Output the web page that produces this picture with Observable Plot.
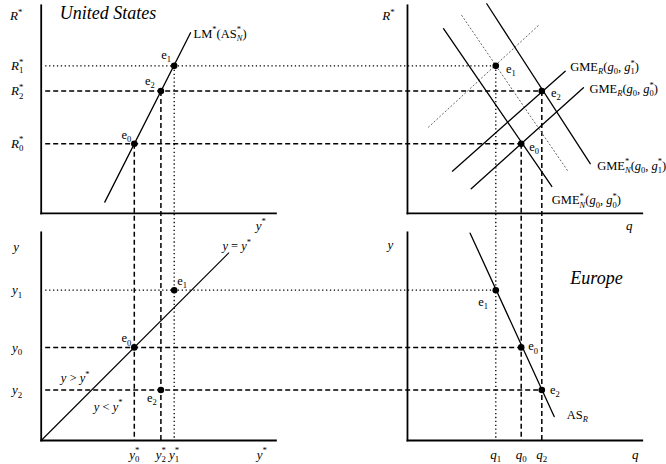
<!DOCTYPE html>
<html><head><meta charset="utf-8">
<script src="https://cdn.jsdelivr.net/npm/d3@7"></script>
<script src="https://cdn.jsdelivr.net/npm/@observablehq/plot@0.6"></script>
<style>
body{margin:0;background:#fff}
#chart{width:666px;height:464px}
</style></head><body><div id="chart"></div>
<script>
// ---------------- data (diagram units) ----------------
const eqNames = ["e<sub>0</sub>", "e<sub>1</sub>", "e<sub>2</sub>"];
const yStar = [7, 10, 9];            // y*0, y*1, y*2   (US output)
const rStar = [5.24, 11.1, 9.2];     // R*0, R*1, R*2   (interest rate)
const yEU   = [7, 11.3, 3.8];        // y0, y1, y2      (European output)
const qEU   = [8.55, 6.64, 10.1];    // q0, q1, q2      (real exchange rate)

const rTicks  = ["<i>R</i><sup>*</sup><sub>0</sub>", "<i>R</i><sup>*</sup><sub>1</sub>", "<i>R</i><sup>*</sup><sub>2</sub>"];
const ysTicks = ["<i>y</i><sup>*</sup><sub>0</sub>", "<i>y</i><sup>*</sup><sub>1</sub>", "<i>y</i><sup>*</sup><sub>2</sub>"];
const yTicks  = ["<i>y</i><sub>0</sub>", "<i>y</i><sub>1</sub>", "<i>y</i><sub>2</sub>"];
const qTicks  = ["<i>q</i><sub>0</sub>", "<i>q</i><sub>1</sub>", "<i>q</i><sub>2</sub>"];

// curves: endpoints
const lmYs = [4.78, 11.23],  lmR = [0.85, 13.59];                 // LM*(AS*N)
const gN0Q = [2.71, 10.85],  gN0R = [13.89, 2.03];               // GME*N(g0,g0*)
const gN1Q = [5.96, 13.74],  gN1R = [15.77, 3.74];               // GME*N(g0,g1*)
const gNdQ = [4.08, 12.11],  gNdR = [14.89, 3.11];               // dotted intermediate
const gR1Q = [3.38, 11.86],  gR1R = [3.18, 10.70];               // GME_R(g0,g1*)
const gR0Q = [4.79, 13.23],  gR0R = [1.86, 9.45];                // GME_R(g0,g0*)
const gRdQ = [1.58, 9.85],   gRdR = [6.49, 14.14];               // dotted intermediate
const asQ  = [4.71, 11.03],  asY  = [15.59, 1.80];               // AS_R
const diag = [0, 14.1];                                          // y = y*
const axisLenX = 17.65, axisLenY = 15.65;

// ---------------- composite layout ----------------
const QX = 27.54;   // horizontal offset of right-hand panels
const TY = 17.07;   // vertical offset of top panels
const U = 13.3;     // pixels per unit

const seg = (xs, ys, ox, oy) => xs.map((v, i) => ({x: ox + v, y: oy + ys[i]}));

const axes = [
  {x1: 0, y1: TY, x2: 0, y2: TY + axisLenY}, {x1: 0, y1: TY, x2: axisLenX, y2: TY},
  {x1: QX, y1: TY, x2: QX, y2: TY + axisLenY}, {x1: QX, y1: TY, x2: QX + axisLenX, y2: TY},
  {x1: 0, y1: 0, x2: 0, y2: axisLenY}, {x1: 0, y1: 0, x2: axisLenX, y2: 0},
  {x1: QX, y1: 0, x2: QX, y2: axisLenY}, {x1: QX, y1: 0, x2: QX + axisLenX, y2: 0}
];

const guides = [];
[0, 1, 2].forEach(i => {
  const kind = i === 1 ? "dot" : "dash";
  guides.push({kind, x1: 0.3, y1: TY + rStar[i], x2: QX + qEU[i], y2: TY + rStar[i]});
  guides.push({kind, x1: 0.3, y1: yEU[i], x2: QX + qEU[i], y2: yEU[i]});
  guides.push({kind, x1: yStar[i], y1: TY + rStar[i], x2: yStar[i], y2: 0});
  guides.push({kind, x1: QX + qEU[i], y1: TY + rStar[i], x2: QX + qEU[i], y2: 0});
});

const pts = [];
[0, 1, 2].forEach(i => {
  pts.push({x: yStar[i], y: TY + rStar[i]});
  pts.push({x: QX + qEU[i], y: TY + rStar[i]});
  pts.push({x: yStar[i], y: yEU[i]});
  pts.push({x: QX + qEU[i], y: yEU[i]});
});

// labels: anchored on data positions, offset in pixels
const L = [];
const lab = (x, y, t, dx, dy, anchor = "middle", fs = 12.5, italic = false) => L.push({x, y, t, dx, dy, anchor, fs, italic});

// top-left
lab(0, TY + axisLenY, "<i>R</i><sup>*</sup>", -25, 11, "middle", 13);
rTicks.forEach((t, i) => lab(0, TY + rStar[i], t, -24, 0, "middle", 13));
lab(0, TY + axisLenY, "United States", 18.6, 8, "start", 18, true);
lab(lmYs[1], TY + lmR[1], "LM<sup>*</sup>(AS<sup>*</sup><sub><i>N</i></sub>)", 3, 1, "start");
const tlOff = [[-8, -9], [-8, -11], [-11, -10]];
eqNames.forEach((t, i) => lab(yStar[i], TY + rStar[i], t, tlOff[i][0], tlOff[i][1]));
lab(axisLenX, TY, "<i>y</i><sup>*</sup>", -15, 12, "middle", 13);

// top-right
lab(QX, TY + axisLenY, "<i>R</i><sup>*</sup>", -19, 11, "middle", 13);
const trOff = [[13, 3], [15, 3], [14, 2]];
eqNames.forEach((t, i) => lab(QX + qEU[i], TY + rStar[i], t, trOff[i][0], trOff[i][1]));
lab(QX + gR1Q[1], TY + gR1R[1], "GME<sub><i>R</i></sub>(<i>g</i><sub>0</sub>, <i>g</i><sup>*</sup><sub>1</sub>)", 5, -4, "start");
lab(QX + gR0Q[1], TY + gR0R[1], "GME<sub><i>R</i></sub>(<i>g</i><sub>0</sub>, <i>g</i><sup>*</sup><sub>0</sub>)", 6, 1, "start");
lab(QX + gN1Q[1], TY + gN1R[1], "GME<sup>*</sup><sub><i>N</i></sub>(<i>g</i><sub>0</sub>, <i>g</i><sup>*</sup><sub>1</sub>)", 7, 2, "start");
lab(QX + gN0Q[1], TY + gN0R[1], "GME<sup>*</sup><sub><i>N</i></sub>(<i>g</i><sub>0</sub>, <i>g</i><sup>*</sup><sub>0</sub>)", 0, 14, "start");
lab(QX + axisLenX, TY, "<i>q</i>", -13, 12, "middle", 13);

// bottom-left
lab(0, axisLenY, "<i>y</i>", -25, 14, "middle", 13);
yTicks.forEach((t, i) => lab(0, yEU[i], t, -24, 0, "middle", 13));
ysTicks.forEach((t, i) => lab(yStar[i], 0, t, 0, 14, "middle", 13));
lab(axisLenX, 0, "<i>y</i><sup>*</sup>", -14, 14, "middle", 13);
lab(diag[1], diag[1], "<i>y</i> = <i>y</i><sup>*</sup>", 8, -7);
const blOff = [[-8, -9], [8, -9], [-9, 8]];
eqNames.forEach((t, i) => lab(yStar[i], yEU[i], t, blOff[i][0], blOff[i][1]));
lab(3, 3, "<i>y</i> > <i>y</i><sup>*</sup>", -6, -22.6);
lab(3, 3, "<i>y</i> < <i>y</i><sup>*</sup>", 27, 6);

// bottom-right
lab(QX, axisLenY, "<i>y</i>", -17, 12, "middle", 13);
qTicks.forEach((t, i) => lab(QX + qEU[i], 0, t, 0, 14, "middle", 13));
lab(QX + axisLenX, 0, "<i>q</i>", -7, 14, "middle", 13);
const brOff = [[12, -1], [-12.6, 12], [13, 0]];
eqNames.forEach((t, i) => lab(QX + qEU[i], yEU[i], t, brOff[i][0], brOff[i][1]));
lab(QX + asQ[1], asY[1], "AS<sub><i>R</i></sub>", 12.6, -2, "start");
lab(QX + qEU[1], yEU[1], "Europe", 100.7, -12, "middle", 18, true);

const FONT = "Liberation Serif, Times New Roman, serif";

const plot = Plot.plot({
  width: 666, height: 464, margin: 0,
  style: {fontFamily: FONT, background: "#fff", color: "#000"},
  x: {domain: [-40.7 / U, (666 - 40.7) / U], axis: null},
  y: {domain: [-24 / U, 440 / U], axis: null},
  marks: [
    // guides
    Plot.link(guides.filter(d => d.kind === "dash"), {x1: "x1", y1: "y1", x2: "x2", y2: "y2", stroke: "#000", strokeWidth: 1.5, strokeDasharray: "5,3"}),
    Plot.link(guides.filter(d => d.kind === "dot"), {x1: "x1", y1: "y1", x2: "x2", y2: "y2", stroke: "#000", strokeWidth: 1.3, strokeDasharray: "1.3,2.6"}),
    // intermediate dotted curves (grey)
    Plot.line(seg(gNdQ, gNdR, QX, TY), {x: "x", y: "y", stroke: "#666", strokeWidth: 1, strokeDasharray: "1.2,2.6"}),
    Plot.line(seg(gRdQ, gRdR, QX, TY), {x: "x", y: "y", stroke: "#666", strokeWidth: 1, strokeDasharray: "1.2,2.6"}),
    // solid curves
    Plot.line(seg(lmYs, lmR, 0, TY), {x: "x", y: "y", stroke: "#000", strokeWidth: 1.3}),
    Plot.line(seg(gN0Q, gN0R, QX, TY), {x: "x", y: "y", stroke: "#000", strokeWidth: 1.3}),
    Plot.line(seg(gN1Q, gN1R, QX, TY), {x: "x", y: "y", stroke: "#000", strokeWidth: 1.3}),
    Plot.line(seg(gR1Q, gR1R, QX, TY), {x: "x", y: "y", stroke: "#000", strokeWidth: 1.3}),
    Plot.line(seg(gR0Q, gR0R, QX, TY), {x: "x", y: "y", stroke: "#000", strokeWidth: 1.3}),
    Plot.line(seg(asQ, asY, QX, 0), {x: "x", y: "y", stroke: "#000", strokeWidth: 1.3}),
    Plot.line(seg(diag, diag, 0, 0), {x: "x", y: "y", stroke: "#000", strokeWidth: 1.1}),
    // axes
    Plot.link(axes, {x1: "x1", y1: "y1", x2: "x2", y2: "y2", stroke: "#000", strokeWidth: 1.8, strokeLinecap: "square"}),
    // equilibrium points
    Plot.dot(pts, {x: "x", y: "y", r: 3.3, fill: "#000", stroke: "none"}),
    // labels
    ...L.map(l => Plot.text([l], {x: "x", y: "y", text: "t", dx: l.dx, dy: l.dy, textAnchor: l.anchor,
      fontSize: l.fs, fontFamily: FONT, fontStyle: l.italic ? "italic" : "normal", fill: "#000"}))
  ]
});

document.getElementById("chart").append(plot);

// ---- rich text: <i>, <sup>, <sub>, stacked sup/sub ----
const NS = "http://www.w3.org/2000/svg";
d3.select(plot).selectAll("text").each(function() {
  const t = this;
  const src = t.textContent;
  if (!src.includes("<")) return;
  const fs = parseFloat(getComputedStyle(t).fontSize) || 12.5;
  const tokens = src.match(/<\/?(?:i|sup|sub)>|[^<]+|</g);
  t.textContent = "";
  let italic = 0, level = 0, cur = 0, justClosedSup = false, stackNext = false, supEls = [];
  for (const tok of tokens) {
    if (tok === "<i>") { italic++; continue; }
    if (tok === "</i>") { italic--; continue; }
    if (tok === "<sup>") { level = 1; supEls = []; justClosedSup = false; continue; }
    if (tok === "</sup>") { level = 0; justClosedSup = true; continue; }
    if (tok === "<sub>") { level = -1; if (justClosedSup) stackNext = true; justClosedSup = false; continue; }
    if (tok === "</sub>") { level = 0; justClosedSup = false; continue; }
    justClosedSup = false;
    const ts = document.createElementNS(NS, "tspan");
    ts.textContent = tok;
    if (italic > 0) ts.setAttribute("font-style", "italic");
    else ts.setAttribute("font-style", "normal");
    if (level !== 0) ts.setAttribute("font-size", (0.68 * fs).toFixed(2));
    const target = level === 1 ? -0.42 * fs : level === -1 ? 0.26 * fs : 0;
    if (target - cur !== 0) ts.setAttribute("dy", (target - cur).toFixed(2));
    cur = target;
    t.appendChild(ts);
    if (stackNext) {
      const w = supEls.reduce((s, e) => s + e.getComputedTextLength(), 0);
      ts.setAttribute("dx", (-w).toFixed(2));
      stackNext = false;
    }
    if (level === 1) supEls.push(ts);
  }
});
</script>
</body></html>
